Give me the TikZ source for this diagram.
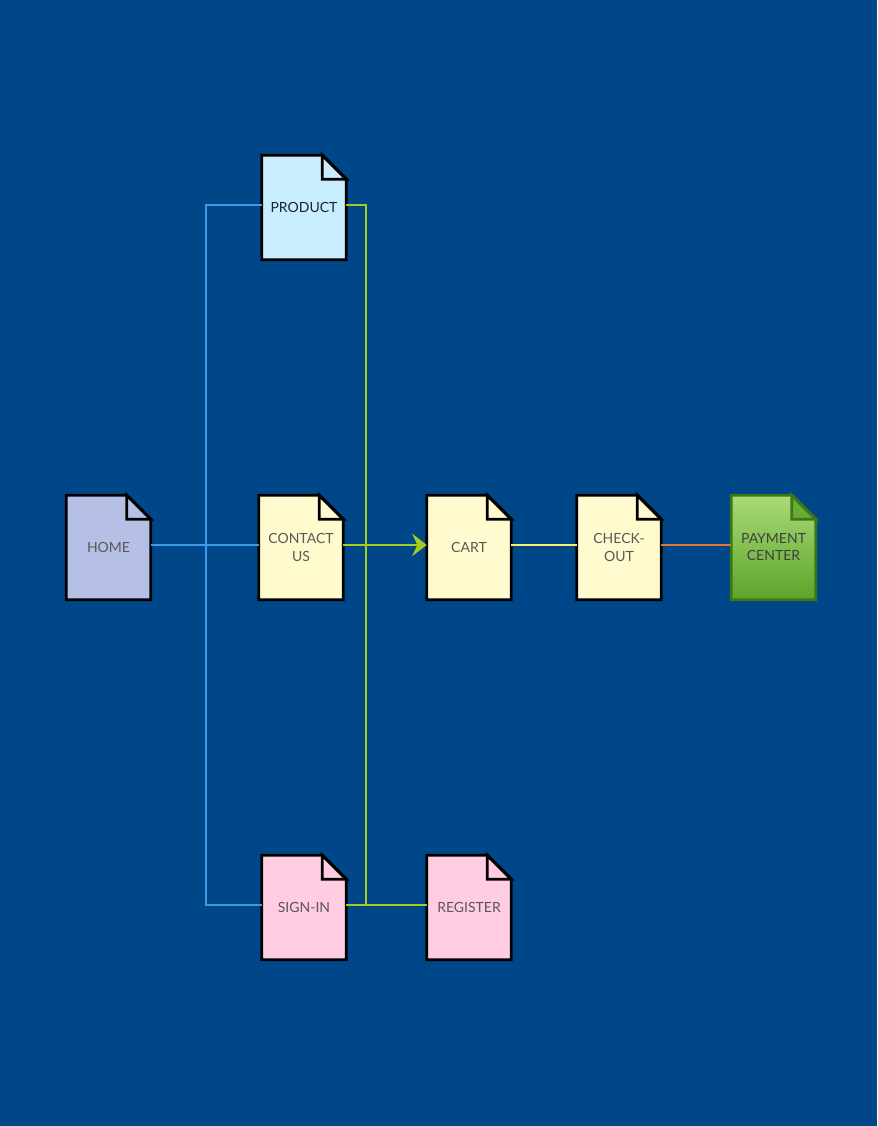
\documentclass[tikz,border=0pt]{standalone}
\usepackage{fontspec}
\setmainfont{Lato}
\usetikzlibrary{arrows.meta,backgrounds}

\definecolor{backdrop}{RGB}{0,71,138}
\definecolor{linkblue}{RGB}{62,154,230}
\definecolor{linkgreen}{RGB}{166,204,28}
\definecolor{linkyellow}{RGB}{246,240,110}
\definecolor{linkorange}{RGB}{222,118,46}
\definecolor{fillsky}{RGB}{199,237,255}
\definecolor{filllavender}{RGB}{182,191,229}
\definecolor{fillcream}{RGB}{255,251,206}
\definecolor{fillpink}{RGB}{255,204,225}
\definecolor{greentop}{RGB}{170,218,120}
\definecolor{greenbottom}{RGB}{92,164,40}
\definecolor{greenedge}{RGB}{60,120,20}
\definecolor{labelgray}{RGB}{88,88,88}
\definecolor{labeldark}{RGB}{25,35,50}

\tikzset{
  pagebox/.style={minimum width=63pt, minimum height=78pt, inner sep=0pt,
    align=center, font=\fontsize{10.5}{12.8}\selectfont, text=labelgray},
  pageline/.style={draw=black, line width=2.2pt, line join=miter},
  link/.style={line width=1.5pt},
}

% folded-corner page outline behind a node
\newcommand{\pageshape}[3]{%
  \path[#2] (#1.south west) -- (#1.north west) -- ([xshift=-18pt]#1.north east)
    -- ([yshift=-18pt]#1.north east) -- (#1.south east) -- cycle;
  \path[#3] ([xshift=-18pt]#1.north east) -- ([xshift=-18pt,yshift=-18pt]#1.north east)
    -- ([yshift=-18pt]#1.north east) -- cycle;
}

\begin{document}
\begin{tikzpicture}[x=0.75pt,y=-0.75pt]
  \useasboundingbox (0,0) rectangle (877,1126);

  \node[pagebox, text=labeldark] (product)  at (304,207.5)   {PRODUCT};
  \node[pagebox] (home)     at (108.5,547.5) {HOME};
  \node[pagebox] (contact)  at (301,547.5)   {CONTACT\\US};
  \node[pagebox] (cart)     at (469,547.5)   {CART};
  \node[pagebox] (checkout) at (619,547.5)   {CHECK-\\OUT};
  \node[pagebox, text=black!75] (payment) at (773.5,547.5) {PAYMENT\\CENTER};
  \node[pagebox] (signin)   at (304,907.5)   {SIGN-IN};
  \node[pagebox] (register) at (469,907.5)   {REGISTER};

  \begin{scope}[on background layer]
    \fill[backdrop] (0,0) rectangle (877,1126);
    \pageshape{product}{pageline, fill=fillsky}{pageline, fill=fillsky}
    \pageshape{home}{pageline, fill=filllavender}{pageline, fill=filllavender}
    \pageshape{contact}{pageline, fill=fillcream}{pageline, fill=fillcream}
    \pageshape{cart}{pageline, fill=fillcream}{pageline, fill=fillcream}
    \pageshape{checkout}{pageline, fill=fillcream}{pageline, fill=fillcream}
    \pageshape{signin}{pageline, fill=fillpink}{pageline, fill=fillpink}
    \pageshape{register}{pageline, fill=fillpink}{pageline, fill=fillpink}
    \pageshape{payment}{draw=greenedge, line width=2.2pt, line join=miter,
      top color=greentop, bottom color=greenbottom}
      {draw=greenedge, line width=2.2pt, line join=miter, fill=greenbottom!85!greentop}
  \end{scope}

  % connectors run slightly above the page centres
  \tikzset{up/.style={yshift=1.9pt}}

  % navigation from home
  \draw[link, linkblue] ([up]home.east) -- ([up]contact.west);
  \draw[link, linkblue] ([up]home.east) -- ++(55,0) |- ([up]product.west);
  \draw[link, linkblue] ([up]home.east) -- ++(55,0) |- ([up]signin.west);

  % product, contact and sign-in lead on
  \draw[link, linkgreen] ([up]product.east) -- ++(20,0) |- ([up]register.west);
  \draw[link, linkgreen] ([up]signin.east) -- ([up]register.west);
  \draw[link, linkgreen, -{Stealth[length=11pt, width=17pt, inset=4pt]}]
    ([up]contact.east) -- ([up]cart.west);

  % purchase flow
  \draw[link, linkyellow] ([up]cart.east) -- ([up]checkout.west);
  \draw[link, linkorange] ([up]checkout.east) -- ([up]payment.west);
\end{tikzpicture}
\end{document}
